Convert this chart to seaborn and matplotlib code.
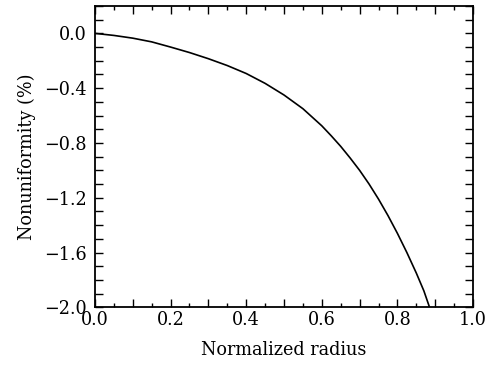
import numpy as np
import pandas as pd
import seaborn as sns
import matplotlib.pyplot as plt
from matplotlib.ticker import MultipleLocator, FuncFormatter

# values
radius = [0.0, 0.05, 0.10, 0.15, 0.20, 0.25, 0.30, 0.35, 0.40, 0.45, 0.50,
          0.55, 0.60, 0.625, 0.65, 0.675, 0.70, 0.725, 0.75, 0.775, 0.80,
          0.825, 0.85, 0.87, 0.885]
nonuniformity = [0.0, -0.015, -0.035, -0.062, -0.100, -0.140, -0.185, -0.235,
                 -0.293, -0.365, -0.450, -0.550, -0.675, -0.748, -0.825,
                 -0.910, -1.00, -1.10, -1.21, -1.33, -1.46, -1.60, -1.75,
                 -1.88, -2.0]

df = pd.DataFrame({"r": radius, "nu": nonuniformity})

sns.set_style("ticks")
plt.rcParams['font.family'] = ['DejaVu Serif']
plt.rcParams['text.color'] = 'black'
plt.rcParams['axes.labelcolor'] = 'black'
fs = 12.7

fig = plt.figure(figsize=(4.94, 3.67), dpi=100)
ax = fig.add_axes([0.1923, 0.1627, 0.9575 - 0.1923, 0.9837 - 0.1627])
sns.lineplot(data=df, x="r", y="nu", color="black", linewidth=1.2, ax=ax)

ax.set_xlim(0, 1.0)
ax.set_ylim(-2.0, 0.2)
ax.xaxis.set_major_locator(MultipleLocator(0.1))
ax.xaxis.set_minor_locator(MultipleLocator(0.05))
ax.xaxis.set_major_formatter(FuncFormatter(
    lambda v, p: f"{v:.1f}" if round(v * 10) % 2 == 0 else ""))
ax.yaxis.set_major_locator(MultipleLocator(0.4))
ax.yaxis.set_minor_locator(MultipleLocator(0.1))
ax.yaxis.set_major_formatter(FuncFormatter(
    lambda v, p: f"{v:.1f}".replace("-", "\u2212") if abs(v) > 1e-9 else "0.0"))

ax.tick_params(axis="both", which="both", direction="in", top=True, right=True,
               width=1.0, labelsize=fs, colors="black")
ax.tick_params(axis="x", which="major", length=6, pad=3)
ax.tick_params(axis="x", which="minor", length=3)
ax.tick_params(axis="y", which="both", length=6, pad=6)
for s in ax.spines.values():
    s.set_linewidth(1.3)
    s.set_color("black")

ax.set_xlabel("Normalized radius", fontsize=fs, labelpad=8, color="black")
ax.set_ylabel("Nonuniformity (%)", fontsize=fs, labelpad=6, color="black")

fig.savefig("out.png", dpi=100)
